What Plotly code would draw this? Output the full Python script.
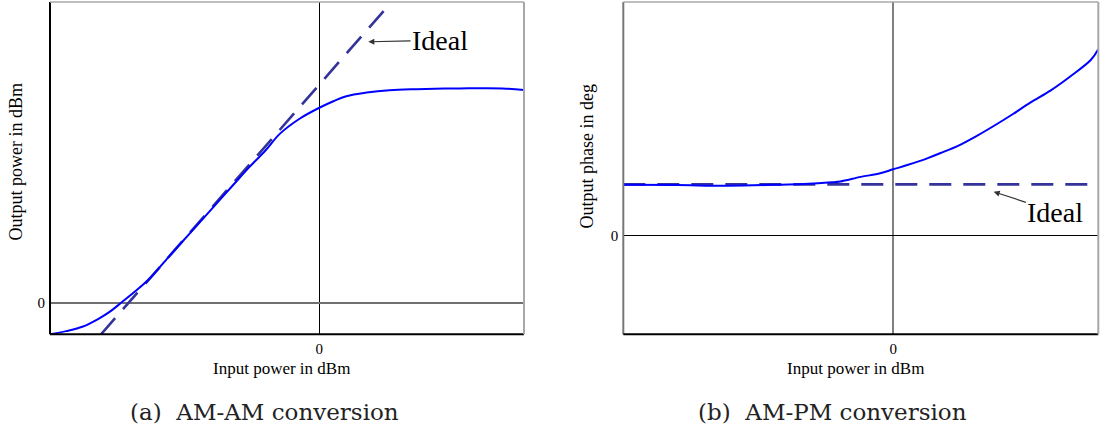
import plotly.graph_objects as go

# ---- AM-AM conversion (input power vs output power, dBm) ----
amam_in = [-25, -23.5, -22, -20.5, -19.4, -18.4, -17.2, -15.9, -14, -12, -10,
           -8, -6.5, -5, -3.65, -1.8, 0, 1.3, 2.5, 4.4, 6.5, 9, 13, 17, 19]
amam_out = [-2.56, -2.3, -1.95, -1.3, -0.7, 0.0, 0.85, 1.84, 3.7, 5.65, 7.6,
            9.55, 11.0, 12.35, 13.72, 14.95, 15.82, 16.35, 16.76, 17.06, 17.25,
            17.33, 17.39, 17.39, 17.25]
amam_ideal_in = [-20.3, 6.7]
amam_ideal_out = [-2.6, 24.4]

# ---- AM-PM conversion (input power vs output phase, deg) ----
ampm_in = [-25, -20, -15.3, -11, -8.3, -5.7, -4.9, -3.0, -1.2, 0, 1.3, 3.15,
           4.4, 6.1, 7.8, 9.5, 11.1, 12.7, 14.6, 16.4, 18.3, 19]
ampm_out = [9.9, 9.85, 9.73, 9.9, 10.06, 10.39, 10.55, 11.45, 12.14, 12.92,
            13.75, 15.06, 16.1, 17.6, 19.5, 21.6, 23.7, 25.9, 28.3, 31.0,
            34.2, 36.3]
ampm_ideal_in = [-25, 19]
ampm_ideal_out = [10, 10]

tick_vals = [0]
tick_text = ["0"]

SERIF = "Liberation Serif"
CURVE = "#0000ff"
IDEAL = "#33339a"
DASH = "22px,12px"

fig = go.Figure()

fig.add_trace(go.Scatter(x=amam_ideal_in, y=amam_ideal_out, mode="lines",
                         line=dict(color=IDEAL, width=2.6, dash=DASH),
                         xaxis="x", yaxis="y", showlegend=False))
fig.add_trace(go.Scatter(x=amam_in, y=amam_out, mode="lines",
                         line=dict(color=CURVE, width=2, shape="spline"),
                         xaxis="x", yaxis="y", showlegend=False))
fig.add_trace(go.Scatter(x=ampm_ideal_in, y=ampm_ideal_out, mode="lines",
                         line=dict(color=IDEAL, width=2.8, dash=DASH),
                         xaxis="x2", yaxis="y2", showlegend=False))
fig.add_trace(go.Scatter(x=ampm_in, y=ampm_out, mode="lines",
                         line=dict(color=CURVE, width=2, shape="spline"),
                         xaxis="x2", yaxis="y2", showlegend=False))

W, H = 1108, 432
ydom = [1 - 334.3 / H, 1 - 2 / H]

axis_common = dict(showgrid=False, showline=False, ticks="",
                   tickvals=tick_vals, ticktext=tick_text,
                   tickfont=dict(family=SERIF, size=15, color="black"))

fig.update_layout(
    width=W, height=H,
    margin=dict(l=0, r=0, t=0, b=0),
    paper_bgcolor="white", plot_bgcolor="white",
    xaxis=dict(domain=[50 / W, 524 / W], range=[-25, 19], anchor="y",
               zeroline=True, zerolinecolor="black", zerolinewidth=1,
               ticklabelstandoff=4, **axis_common),
    yaxis=dict(domain=ydom, range=[-2.56, 24.4], anchor="x",
               zeroline=True, zerolinecolor="#707070", zerolinewidth=2,
               ticklabelstandoff=4, **axis_common),
    xaxis2=dict(domain=[623.3 / W, 1098.3 / W], range=[-25, 19], anchor="y2",
                zeroline=True, zerolinecolor="#808080", zerolinewidth=2,
                ticklabelstandoff=4, **axis_common),
    yaxis2=dict(domain=ydom, range=[-19.2, 45.5], anchor="x2",
                zeroline=True, zerolinecolor="black", zerolinewidth=1.2,
                ticklabelstandoff=4, **axis_common),
)


def frame(xr, yr, left_color):
    edges = [
        (0, 0, 0, 1, left_color, 2),
        (0, 1, 0, 0, "black", 2),
        (0, 1, 1, 1, "#a8a8a8", 1.5),
        (1, 1, 0, 1, "#a8a8a8", 2),
    ]
    for x0, x1, y0, y1, c, w in edges:
        fig.add_shape(type="line", xref=xr, yref=yr, x0=x0, x1=x1, y0=y0, y1=y1,
                      line=dict(color=c, width=w), layer="above")


frame("x domain", "y domain", "black")
frame("x2 domain", "y2 domain", "#777777")


def label(text, x, y, size, angle=0, family=SERIF, color="black"):
    fig.add_annotation(text=text, xref="paper", yref="paper",
                       x=x / W, y=1 - y / H, xanchor="center", yanchor="middle",
                       textangle=angle, showarrow=False,
                       font=dict(family=family, size=size, color=color))


# axis titles
label("Input power in dBm", 281, 368.5, 17)
label("Input power in dBm", 855, 368.5, 17)
label("Output power in dBm", 15.5, 162, 18, angle=-90)
label("Output phase in deg", 586, 156.5, 18, angle=-90)

# "Ideal" pointers
fig.add_annotation(text="Ideal", xref="x", yref="y", x=4.55, y=21.17,
                   ax=71.7, ay=-1.7, showarrow=True, arrowhead=2,
                   arrowsize=1, arrowwidth=1.2, arrowcolor="#333333",
                   font=dict(family=SERIF, size=28, color="black"))
fig.add_annotation(text="Ideal", xref="x2", yref="y2", x=9.31, y=8.56,
                   ax=61.7, ay=20.3, showarrow=True, arrowhead=2,
                   arrowsize=1, arrowwidth=1.2, arrowcolor="#333333",
                   font=dict(family=SERIF, size=28, color="black"))

# captions
label("(a)  AM-AM conversion", 264, 412, 23, family="DejaVu Serif", color="#222222")
label("(b)  AM-PM conversion", 832, 412, 23, family="DejaVu Serif", color="#222222")

fig.write_html("out.html")
